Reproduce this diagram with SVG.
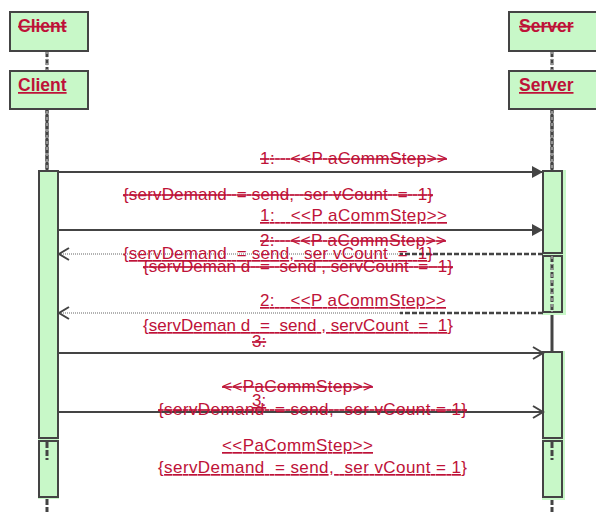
<svg xmlns="http://www.w3.org/2000/svg" width="596" height="512" viewBox="0 0 596 512">
<defs>
<style>
.head{fill:#c8f8c8;stroke:#444;stroke-width:2}
.act{fill:#c8f8c8;stroke:#444;stroke-width:2}
.halo{fill:#c8f8c8;stroke:none}
.ht{font-family:"Liberation Sans",Arial,sans-serif;font-size:17.5px;font-weight:bold;fill:#be1238}
.t{font-family:"Liberation Sans",Arial,sans-serif;font-size:17px;fill:#be1238;white-space:pre}
.old{text-decoration:line-through}
.new{text-decoration:underline}
.msg{stroke:#444;stroke-width:2;fill:none}
.ll{stroke:#444;stroke-width:3;fill:none}
.lld{stroke:#444;stroke-width:3;stroke-dasharray:6 2;fill:none}
.llin{stroke:#ddd;stroke-width:1;stroke-dasharray:3 3;fill:none}
.ret{stroke:#999;stroke-width:1.5;stroke-dasharray:1 1;fill:none}
.retd{stroke:#444;stroke-width:2.5;stroke-dasharray:5 2;fill:none}
</style>
<marker id="filled" markerWidth="12" markerHeight="12" refX="11" refY="6" orient="auto" markerUnits="userSpaceOnUse">
<path d="M0,0 L11,6 L0,12 Z" fill="#444"/>
</marker>
<marker id="open" markerWidth="13" markerHeight="14" refX="11" refY="7" orient="auto" markerUnits="userSpaceOnUse">
<path d="M1,1 L11,7 L1,13" fill="none" stroke="#444" stroke-width="2"/>
</marker>
</defs>

<g id="lifelines">
<line class="lld" x1="47" y1="51" x2="47" y2="171"/>
<line class="ll" x1="47" y1="109" x2="47" y2="171"/>
<line class="llin" x1="47" y1="51" x2="47" y2="171"/>
<line class="lld" x1="552" y1="51" x2="552" y2="171"/>
<line class="ll" x1="552" y1="109" x2="552" y2="171"/>
<line class="llin" x1="552" y1="51" x2="552" y2="171"/>
<line class="ll" x1="552" y1="313" x2="552" y2="352"/>
<line class="lld" x1="47" y1="499" x2="47" y2="512"/>
<line class="lld" x1="552" y1="499" x2="552" y2="512"/>
</g>

<g id="client-old">
<rect class="head" x="10" y="12" width="78" height="39"/>
<text class="ht old" x="18" y="32">Client</text>
</g>
<g id="client-new">
<rect class="head" x="10" y="71" width="78" height="38"/>
<text class="ht new" x="18" y="91">Client</text>
</g>
<g id="server-old">
<rect class="head" x="509" y="12" width="100" height="39"/>
<text class="ht old" x="519" y="32">Server</text>
</g>
<g id="server-new">
<rect class="head" x="509" y="71" width="100" height="38"/>
<text class="ht new" x="519" y="91">Server</text>
</g>

<g id="client-activations">
<rect class="act" x="39" y="171" width="19" height="267"/>
<rect class="halo" x="38" y="439" width="21" height="60"/>
<rect class="act" x="39" y="441" width="19" height="56"/>
<line class="lld" x1="47" y1="442" x2="47" y2="460"/>
</g>
<g id="server-activations">
<rect class="halo" x="542" y="170" width="24" height="145"/>
<rect class="act" x="543" y="171" width="19" height="82"/>
<rect class="act" x="543" y="256" width="19" height="56"/>
<line class="lld" x1="552" y1="256" x2="552" y2="312"/>
<line class="llin" x1="552" y1="256" x2="552" y2="312"/>
<rect class="halo" x="542" y="351" width="23" height="149"/>
<rect class="act" x="543" y="352" width="19" height="86"/>
<rect class="act" x="543" y="441" width="19" height="56"/>
<line class="lld" x1="552" y1="442" x2="552" y2="460"/>
</g>

<g id="connectors">
<line class="msg" x1="58" y1="172" x2="543" y2="172" marker-end="url(#filled)"/>
<line class="msg" x1="58" y1="230" x2="543" y2="230" marker-end="url(#filled)"/>
<line class="ret" x1="400" y1="254" x2="59" y2="254" marker-end="url(#open)"/>
<line class="retd" x1="543" y1="254" x2="400" y2="254"/>
<line class="ret" x1="400" y1="313" x2="59" y2="313" marker-end="url(#open)"/>
<line class="retd" x1="543" y1="313" x2="400" y2="313"/>
<line class="msg" x1="58" y1="353" x2="543" y2="353" marker-end="url(#open)"/>
<line class="msg" x1="58" y1="412" x2="543" y2="412" marker-end="url(#open)"/>
</g>

<g id="labels">
<text class="t old" x="260" y="164" textLength="187" lengthAdjust="spacing">1:   &lt;&lt;P aCommStep&gt;&gt;</text>
<text class="t old" x="123" y="200" textLength="310" lengthAdjust="spacing">{servDemand  = send,  ser vCount  =  1}</text>
<text class="t new" x="260" y="221" textLength="187" lengthAdjust="spacing">1:   &lt;&lt;P aCommStep&gt;&gt;</text>
<text class="t old" x="260" y="246" textLength="186" lengthAdjust="spacing">2:   &lt;&lt;P aCommStep&gt;&gt;</text>
<text class="t new" x="123" y="259" textLength="310" lengthAdjust="spacing">{servDemand  = send,  ser vCount  =  1}</text>
<text class="t old" x="143" y="272" textLength="310" lengthAdjust="spacing">{servDeman d  =  send , servCount  =  1}</text>
<text class="t new" x="260" y="306" textLength="186" lengthAdjust="spacing">2:   &lt;&lt;P aCommStep&gt;&gt;</text>
<text class="t new" x="143" y="331" textLength="310" lengthAdjust="spacing">{servDeman d  =  send , servCount  =  1}</text>
<text class="t old" x="252" y="347">3:</text>
<text class="t old" x="222" y="392" textLength="151" lengthAdjust="spacing">&lt;&lt;PaCommStep&gt;&gt;</text>
<text class="t new" x="252" y="406">3:</text>
<text class="t old" x="158" y="415" textLength="309" lengthAdjust="spacing">{servDemand  = send,  ser vCount = 1}</text>
<text class="t new" x="222" y="451" textLength="151" lengthAdjust="spacing">&lt;&lt;PaCommStep&gt;&gt;</text>
<text class="t new" x="158" y="473" textLength="309" lengthAdjust="spacing">{servDemand  = send,  ser vCount = 1}</text>
</g>
</svg>
